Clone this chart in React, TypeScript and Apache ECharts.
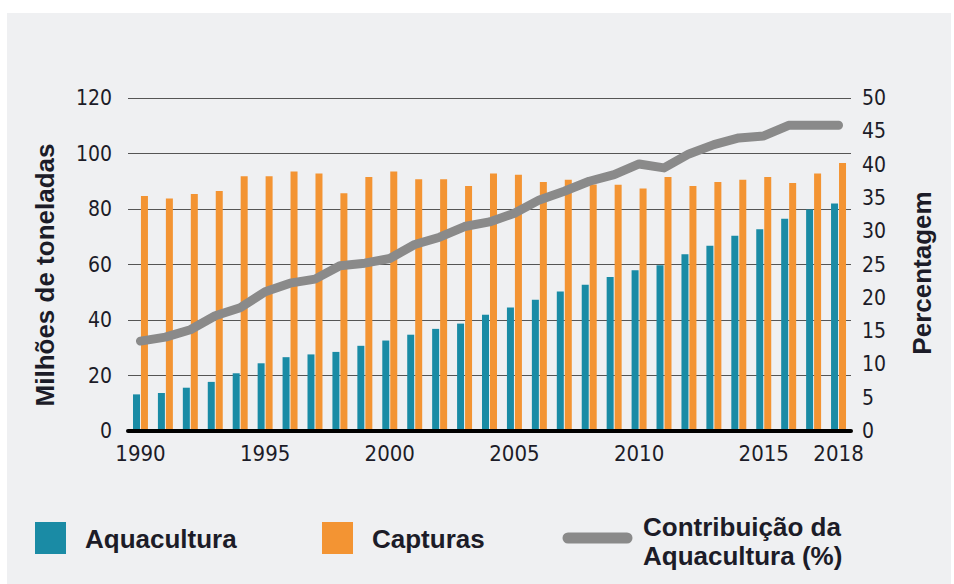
import React, { useEffect, useRef } from "react";
import * as echarts from "echarts";

const years = [
  "1990", "1991", "1992", "1993", "1994", "1995", "1996", "1997", "1998", "1999",
  "2000", "2001", "2002", "2003", "2004", "2005", "2006", "2007", "2008", "2009",
  "2010", "2011", "2012", "2013", "2014", "2015", "2016", "2017", "2018",
];
const aquaculture = [
  13.2, 13.7, 15.6, 17.7, 20.8, 24.4, 26.6, 27.6, 28.5, 30.7,
  32.6, 34.7, 36.8, 38.7, 41.9, 44.5, 47.3, 50.3, 52.7, 55.5,
  57.9, 59.7, 63.7, 66.8, 70.4, 72.7, 76.5, 79.8, 82.0,
];
const capture = [
  84.7, 83.8, 85.4, 86.5, 91.8, 91.8, 93.5, 92.8, 85.7, 91.5,
  93.5, 90.7, 90.7, 88.3, 92.8, 92.3, 89.7, 90.5, 88.8, 88.7,
  87.4, 91.5, 88.3, 89.7, 90.5, 91.5, 89.4, 92.8, 96.6,
];
const share = [
  13.5, 14.1, 15.2, 17.3, 18.5, 20.9, 22.2, 22.8, 24.8, 25.2,
  25.9, 28.0, 29.1, 30.7, 31.4, 32.7, 34.7, 36.0, 37.5, 38.5,
  40.1, 39.5, 41.6, 43.0, 44.0, 44.3, 45.9, 45.9, 45.9,
];
const shownYearLabels = ["1990", "1995", "2000", "2005", "2010", "2015", "2018"];

const seriesNames = ["Aquacultura", "Capturas", "Contribuição da\nAquacultura (%)"];
const leftTitle = "Milhões de toneladas";
const rightTitle = "Percentagem";

const BLUE = "#1a8ba5";
const ORANGE = "#f39433";
const GREY = "#8a8a8a";
const TEXT = "#1c1c28";
const NARROW = "'Liberation Sans Narrow', 'DejaVu Sans Condensed', 'Liberation Sans', sans-serif";
const SANS = "'Liberation Sans', Arial, sans-serif";

export default function App() {
  const ref = useRef<HTMLDivElement>(null);

  useEffect(() => {
    if (!ref.current) return;
    const chart = echarts.init(ref.current, undefined, { renderer: "svg" });
    chart.setOption({
      animation: false,
      backgroundColor: "#ffffff",
      grid: { left: 128, right: 103, top: 98, bottom: 153, containLabel: false },
      xAxis: {
        type: "category",
        data: years,
        boundaryGap: true,
        axisLine: { show: true, lineStyle: { color: "#000000", width: 4 } },
        axisTick: { show: false },
        axisLabel: {
          interval: (_i: number, v: string) => shownYearLabels.includes(v),
          color: TEXT,
          fontFamily: NARROW,
          fontSize: 22,
          margin: 11,
        },
        z: 5,
      },
      yAxis: [
        {
          type: "value",
          min: 0,
          max: 120,
          interval: 20,
          axisLine: { show: false },
          axisTick: { show: false },
          splitLine: { show: true, lineStyle: { color: "#555555", width: 1 } },
          axisLabel: { color: TEXT, fontFamily: NARROW, fontSize: 21, margin: 16 },
        },
        {
          type: "value",
          min: 0,
          max: 50,
          interval: 5,
          axisLine: { show: false },
          axisTick: { show: false },
          splitLine: { show: false },
          axisLabel: { color: TEXT, fontFamily: NARROW, fontSize: 21, margin: 11 },
        },
      ],
      series: [
        {
          name: seriesNames[0],
          type: "bar",
          data: aquaculture,
          barWidth: 7,
          barGap: "14%",
          itemStyle: { color: BLUE },
          z: 2,
        },
        {
          name: seriesNames[1],
          type: "bar",
          data: capture,
          barWidth: 7,
          barGap: "14%",
          itemStyle: { color: ORANGE },
          z: 2,
        },
        {
          name: seriesNames[2],
          type: "line",
          yAxisIndex: 1,
          data: share,
          showSymbol: false,
          symbol: "none",
          lineStyle: { color: GREY, width: 9, cap: "round", join: "round" },
          itemStyle: { color: GREY },
          z: 3,
        },
      ],
      graphic: [
        {
          type: "rect",
          shape: { x: 7, y: 13, width: 944, height: 571 },
          style: { fill: "#eff0f2" },
          z: -10,
          silent: true,
        },
        {
          type: "text",
          x: 45,
          y: 275,
          rotation: Math.PI / 2,
          style: {
            text: leftTitle,
            fill: TEXT,
            font: `bold 26px ${SANS}`,
            align: "center",
            verticalAlign: "middle",
          },
        },
        {
          type: "text",
          x: 922,
          y: 273,
          rotation: Math.PI / 2,
          style: {
            text: rightTitle,
            fill: TEXT,
            font: `bold 26px ${SANS}`,
            align: "center",
            verticalAlign: "middle",
          },
        },
        { type: "rect", shape: { x: 35, y: 522, width: 31, height: 32 }, style: { fill: BLUE } },
        {
          type: "text",
          x: 85,
          y: 539,
          style: { text: seriesNames[0], fill: TEXT, font: `bold 26px ${SANS}`, verticalAlign: "middle" },
        },
        { type: "rect", shape: { x: 322, y: 522, width: 31, height: 32 }, style: { fill: ORANGE } },
        {
          type: "text",
          x: 372,
          y: 539,
          style: { text: seriesNames[1], fill: TEXT, font: `bold 26px ${SANS}`, verticalAlign: "middle" },
        },
        {
          type: "line",
          shape: { x1: 568, y1: 538, x2: 627, y2: 538 },
          style: { stroke: GREY, lineWidth: 11, lineCap: "round" },
        },
        {
          type: "text",
          x: 643,
          y: 541,
          style: {
            text: seriesNames[2],
            fill: TEXT,
            font: `bold 26px ${SANS}`,
            lineHeight: 29,
            verticalAlign: "middle",
          },
        },
      ],
    });
    return () => chart.dispose();
  }, []);

  return (
    <div
      ref={ref}
      style={{ position: "absolute", left: 0, top: 0, width: 954, height: 584 }}
    />
  );
}
